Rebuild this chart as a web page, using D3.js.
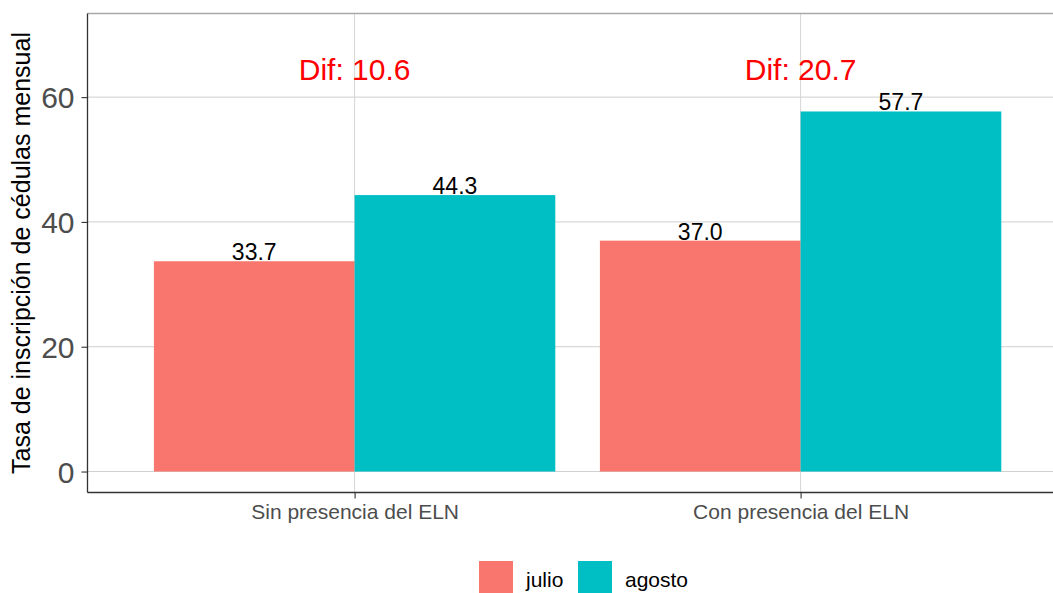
<!DOCTYPE html>
<html>
<head>
<meta charset="utf-8">
<script src="https://cdn.jsdelivr.net/npm/d3@7"></script>
<style>
  body { margin: 0; background: #fff; }
  text { font-family: "Liberation Sans", Arial, sans-serif; }
</style>
</head>
<body>
<div id="my_dataviz"></div>
<script>
// data
var categories = ["Sin presencia del ELN", "Con presencia del ELN"]
var months = ["julio", "agosto"]
var julio = [33.7, 37.0]
var agosto = [44.3, 57.7]
var difs = [10.6, 20.7]
var difLabelY = 64.5
var yTicks = [0, 20, 40, 60]

var colors = ["#F8766D", "#00BFC4"]

// dimensions (panel edges; "top" is taken by window.top, so use other names)
var width = 1053,
    height = 593,
    panelLeft = 87.5,
    panelTop = 13.5,
    panelBottom = 492.5

var svg = d3.select("#my_dataviz")
  .append("svg")
    .attr("width", width)
    .attr("height", height)

// scales: categories at 1 and 2, discrete expansion of 0.6
var x = d3.scaleLinear()
  .domain([0.4, 2.6])
  .range([87, 87 + 2.2 * 446])

var y = d3.scaleLinear()
  .domain([-3.36, 73.4])
  .range([panelBottom, panelTop])

// grid lines
svg.selectAll(".hgrid")
  .data(yTicks)
  .enter()
  .append("line")
    .attr("x1", panelLeft).attr("x2", width)
    .attr("y1", function(d){ return y(d) }).attr("y2", function(d){ return y(d) })
    .attr("stroke", "#cfcfcf")
    .attr("stroke-width", 1)

svg.selectAll(".vgrid")
  .data(categories)
  .enter()
  .append("line")
    .attr("x1", function(d, i){ return x(i + 1) }).attr("x2", function(d, i){ return x(i + 1) })
    .attr("y1", panelTop).attr("y2", panelBottom)
    .attr("stroke", "#d6d6d6")
    .attr("stroke-width", 1)

// build rows for the dodged bars
var rows = []
categories.forEach(function(c, i){
  rows.push({cat: i, month: 0, value: julio[i]})
  rows.push({cat: i, month: 1, value: agosto[i]})
})
var barW = 0.45

function barX(d){ return x(d.cat + 1 - 0.45 + d.month * barW) }

svg.selectAll(".bar")
  .data(rows)
  .enter()
  .append("rect")
    .attr("x", barX)
    .attr("width", function(d){ return x(barW) - x(0) })
    .attr("y", function(d){ return y(d.value) })
    .attr("height", function(d){ return y(0) - y(d.value) })
    .attr("fill", function(d){ return colors[d.month] })

// value labels
svg.selectAll(".val")
  .data(rows)
  .enter()
  .append("text")
    .attr("x", function(d){ return barX(d) + (x(barW) - x(0)) / 2 })
    .attr("y", function(d){ return y(d.value) - 1 })
    .attr("text-anchor", "middle")
    .style("font-size", "23px")
    .attr("fill", "#000")
    .text(function(d){ return d.value.toFixed(1) })

// difference labels
svg.selectAll(".dif")
  .data(difs)
  .enter()
  .append("text")
    .attr("x", function(d, i){ return x(i + 1) })
    .attr("y", y(difLabelY))
    .attr("dy", "0.35em")
    .attr("text-anchor", "middle")
    .style("font-size", "30px")
    .attr("fill", "#FF0000")
    .text(function(d){ return "Dif: " + d.toFixed(1) })

// top border
svg.append("line")
  .attr("x1", panelLeft).attr("x2", width)
  .attr("y1", panelTop).attr("y2", panelTop)
  .attr("stroke", "#a8a8a8")
  .attr("stroke-width", 1.5)

// y axis
var yAxis = svg.append("g")
  .attr("transform", "translate(" + panelLeft + ",0)")
  .call(d3.axisLeft(y).tickValues(yTicks).tickSize(6).tickPadding(7))
yAxis.select(".domain")
  .attr("d", "M0," + panelTop + "V" + panelBottom)
  .attr("stroke", "#333")
  .attr("stroke-width", 1.3)
yAxis.selectAll(".tick line").attr("stroke", "#333").attr("stroke-width", 1.1)
yAxis.selectAll(".tick text")
  .attr("fill", "#4d4d4d")
  .style("font-size", "30px")
  .style("font-family", "Liberation Sans, Arial, sans-serif")
  .attr("dy", "0.36em")

// x axis
var xAxis = svg.append("g")
  .attr("transform", "translate(0," + panelBottom + ")")
  .call(d3.axisBottom(x).tickValues([1, 2]).tickSize(6).tickPadding(6)
    .tickFormat(function(d){ return categories[d - 1] }))
xAxis.select(".domain")
  .attr("d", "M" + panelLeft + ",0H" + width)
  .attr("stroke", "#333")
  .attr("stroke-width", 1.3)
xAxis.selectAll(".tick line").attr("stroke", "#333").attr("stroke-width", 1.1)
xAxis.selectAll(".tick text")
  .attr("fill", "#4d4d4d")
  .style("font-size", "21px")
  .style("font-family", "Liberation Sans, Arial, sans-serif")

// y axis title
svg.append("text")
  .attr("transform", "translate(30," + (panelTop + panelBottom) / 2 + ") rotate(-90)")
  .attr("text-anchor", "middle")
  .style("font-size", "25px")
  .attr("fill", "#000")
  .text("Tasa de inscripción de cédulas mensual")

// legend
var legendX = [479, 578]
var legend = svg.selectAll(".legend")
  .data(months)
  .enter()
  .append("g")
    .attr("transform", function(d, i){ return "translate(" + legendX[i] + ",561)" })
legend.append("rect")
  .attr("width", 34)
  .attr("height", 34)
  .attr("fill", function(d, i){ return colors[i] })
legend.append("text")
  .attr("x", 47)
  .attr("y", 26)
  .style("font-size", "21px")
  .attr("fill", "#000")
  .text(function(d){ return d })
</script>
</body>
</html>
